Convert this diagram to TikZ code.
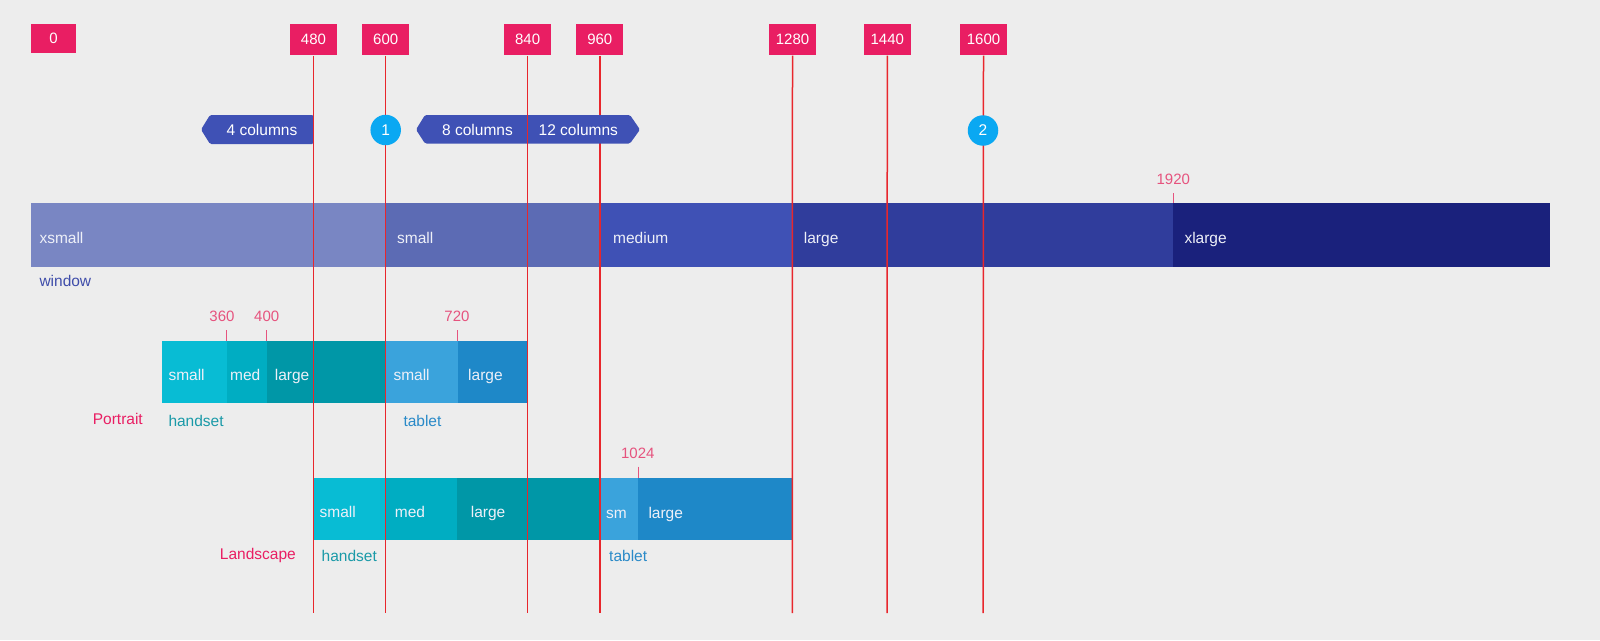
\documentclass[tikz,border=0pt]{standalone}
\usepackage{fontspec}
\setmainfont{Liberation Sans}
\definecolor{bg}{HTML}{EDEDED}
\definecolor{pinkbox}{HTML}{E91E63}
\definecolor{redln}{HTML}{E8262C}
\definecolor{tickpink}{HTML}{E6537E}
\definecolor{circ}{HTML}{0AA8F2}
\definecolor{chev}{HTML}{3F51B5}
\definecolor{indA}{HTML}{7986C3}
\definecolor{indB}{HTML}{5C6BB4}
\definecolor{indC}{HTML}{3F51B5}
\definecolor{indD}{HTML}{303D9C}
\definecolor{indE}{HTML}{1A217C}
\definecolor{cyA}{HTML}{08BCD4}
\definecolor{cyB}{HTML}{00ADC2}
\definecolor{cyC}{HTML}{0097A7}
\definecolor{lbA}{HTML}{3AA3DC}
\definecolor{lbB}{HTML}{1E88C8}
\definecolor{barTxt}{HTML}{EEF0F8}
\definecolor{handTxt}{HTML}{1A9AA8}
\definecolor{tabTxt}{HTML}{2A8AC8}
\definecolor{winTxt}{HTML}{3F4DAA}
\newcommand\fsz{\fontsize{15.5}{18}\selectfont}
\newcommand\fsn{\fontsize{15}{18}\selectfont}
\tikzset{
  numbox/.style={fill=pinkbox, text=white, font=\fsn, inner sep=0pt, minimum width=47pt, minimum height=31pt},
  redline/.style={draw=redln, line width=1.5pt},
  ticktxt/.style={text=tickpink, font=\fsn, inner sep=0pt, anchor=base},
  tickln/.style={draw=tickpink, line width=1pt},
  bartxt/.style={text=barTxt, font=\fsz, inner sep=0pt, anchor=base west},
  circnode/.style={circle, fill=circ, text=white, font=\fsz, inner sep=0pt, minimum size=30.5pt},
  chevtxt/.style={text=white, font=\fsz, inner sep=0pt, anchor=base},
  undertxt/.style={font=\fsz, inner sep=0pt, anchor=base west}
}
\begin{document}
\begin{tikzpicture}[x=1pt, y=-1pt]
\useasboundingbox (0,0) rectangle (1600,640);
\fill[bg] (0,0) rectangle (1600,640);

% chevron 1
\fill[chev, rounded corners=1.5pt] (201,129.6) -- (210,115) -- (313.5,115) -- (313.5,144) -- (210,144) -- cycle;
\node[chevtxt] (c4) at (262,135) {4 columns};

% window bar
\fill[indA] (31,203.3) rectangle (385.7,266.5);
\fill[indB] (385.7,203.3) rectangle (600,266.5);
\fill[indC] (600,203.3) rectangle (792,266.5);
\fill[indD] (792,203.3) rectangle (1172.5,266.5);
\fill[indE] (1172.5,203.3) rectangle (1550.3,266.5);
\node[bartxt] (wxs) at (39.3,243.3) {xsmall};
\node[bartxt] (wsm) at (397,243.3) {small};
\node[bartxt] (wmd) at (613,243.3) {medium};
\node[bartxt] (wlg) at (803.7,243.3) {large};
\node[bartxt] (wxl) at (1184.3,243.3) {xlarge};
\node[undertxt, text=winTxt] (win) at (39.3,286.7) {window};
\node[ticktxt] (t1920) at (1173.3,184) {1920};
\coordinate (k1920) at (1173,193.3);
\draw[tickln] (k1920) -- (1173,203.3);

% portrait bar
\fill[cyA] (161.7,340.7) rectangle (226.7,403.3);
\fill[cyB] (226.7,340.7) rectangle (266.7,403.3);
\fill[cyC] (266.7,340.7) rectangle (385.7,403.3);
\fill[lbA] (385.7,340.7) rectangle (457.7,403.3);
\fill[lbB] (457.7,340.7) rectangle (527.7,403.3);
\node[bartxt] (psm) at (168.3,380.7) {small};
\node[bartxt] (pmd) at (230,380.7) {med};
\node[bartxt] (plg) at (274.7,380.7) {large};
\node[bartxt] (pts) at (393.3,380.7) {small};
\node[bartxt] (ptl) at (468,380.7) {large};
\node[ticktxt] (t360) at (222,321) {360};
\node[ticktxt] (t400) at (266.7,321) {400};
\node[ticktxt] (t720) at (457,321) {720};
\coordinate (k360) at (226.7,330);
\coordinate (k400) at (266.7,330);
\coordinate (k720) at (457.7,330);
\draw[tickln] (k360) -- (226.7,340.7);
\draw[tickln] (k400) -- (266.7,340.7);
\draw[tickln] (k720) -- (457.7,340.7);
\node[undertxt, text=handTxt] (phs) at (168.3,426) {handset};
\node[undertxt, text=tabTxt] (ptb) at (403.3,426) {tablet};
\node[undertxt, text=pinkbox, anchor=base east] (portrait) at (143,424.5) {Portrait};

% landscape bar
\fill[cyA] (313.5,477.7) rectangle (385.8,539.8);
\fill[cyB] (385.8,477.7) rectangle (457.4,539.8);
\fill[cyC] (457.4,477.7) rectangle (600.2,539.8);
\fill[lbA] (600.2,477.7) rectangle (638.1,539.8);
\fill[lbB] (638.1,477.7) rectangle (792,539.8);
\node[bartxt] (lsm) at (319.5,517.3) {small};
\node[bartxt] (lmd) at (394.7,517.3) {med};
\node[bartxt] (llg) at (470.7,517.3) {large};
\node[bartxt] (lts) at (606,518.7) {sm};
\node[bartxt] (ltl) at (648.3,518.7) {large};
\node[ticktxt] (t1024) at (637.8,458.3) {1024};
\coordinate (k1024) at (638.1,466.5);
\draw[tickln] (k1024) -- (638.1,477.7);
\node[undertxt, text=handTxt] (lhs) at (321.5,561.7) {handset};
\node[undertxt, text=tabTxt] (ltb) at (609,561.7) {tablet};
\node[undertxt, text=pinkbox, anchor=base east] (landscape) at (296,559.3) {Landscape};

% top boxes
\node[numbox, minimum width=45pt, minimum height=29pt] (b0) at (53.5,38.8) {0};
\node[numbox] (b480) at (313.5,39.8) {480};
\node[numbox] (b600) at (385.7,39.8) {600};
\node[numbox] (b840) at (527.6,39.8) {840};
\node[numbox] (b960) at (599.8,39.8) {960};
\node[numbox] (b1280) at (792.5,39.8) {1280};
\node[numbox] (b1440) at (887.3,39.8) {1440};
\node[numbox] (b1600) at (983.5,39.8) {1600};

% red lines
\foreach \n/\x in {480/313.5,600/385.7,840/527.6,960/599.8,1280/792.3,1440/887,1600/983}{
  \coordinate (e\n) at (\x,613);
  \draw[redline] (b\n.south) -- (e\n);
}

% chevron 2 (covers the 960 line)
\fill[chev, rounded corners=1.5pt] (416,129.6) -- (425,115) -- (630,115) -- (640,129.6) -- (630,143.5) -- (425,143.5) -- cycle;
\coordinate (d840a) at (527.6,115);
\coordinate (d840b) at (527.6,143.5);
\draw[redline] (d840a) -- (d840b);
\node[chevtxt] (c8) at (477.5,135) {8 columns};
\node[chevtxt] (c12) at (578.3,135) {12 columns};

% circles
\node[circnode] (n1) at (385.7,130) {1};
\node[circnode] (n2) at (983,130.5) {2};
\end{tikzpicture}
\end{document}
